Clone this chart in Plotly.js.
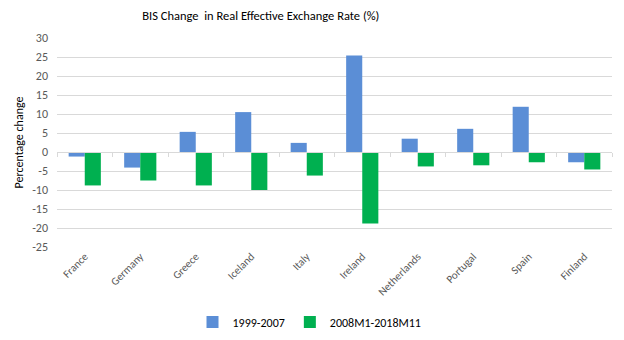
<!DOCTYPE html>
<html><head><meta charset="utf-8">
<script src="https://cdn.plot.ly/plotly-3.0.1.min.js"></script>
<style>html,body{margin:0;padding:0;background:#fff}#chart{width:624px;height:340px}</style>
</head><body><div id="chart"></div>
<script>
const countries = ["France","Germany","Greece","Iceland","Italy","Ireland","Netherlands","Portugal","Spain","Finland"];
const series1Name = "1999-2007";
const series1 = [-1.2,-4.1,5.3,10.5,2.4,25.4,3.5,6.1,11.9,-2.7];
const series2Name = "2008M1-2018M11";
const series2 = [-8.8,-7.5,-8.8,-10.0,-6.2,-18.8,-3.8,-3.5,-2.7,-4.6];
const yTicks = [-25,-20,-15,-10,-5,0,5,10,15,20,25,30];
const yRange = [-25,30];

const font = "Carlito, Calibri, 'Liberation Sans Narrow', 'Open Sans', sans-serif";
const idx = countries.map((c,i)=>i);
const boundaries = countries.concat([""]).map((c,i)=>i-0.5);

const traces = [
  {type:'bar', x:idx, y:series1, name:series1Name, marker:{color:'#5B8ED6'}},
  {type:'bar', x:idx, y:series2, name:series2Name, marker:{color:'#00B050'}},
  {type:'scatter', x:[idx[0]], y:[0], xaxis:'x2', mode:'markers', marker:{opacity:0}, showlegend:false, hoverinfo:'skip'}
];
const layout = {
  width:624, height:340,
  margin:{l:57, r:12, t:38, b:93, autoexpand:false},
  paper_bgcolor:'#fff', plot_bgcolor:'#fff',
  font:{family:font, color:'#595959', size:12},
  title:{text:'BIS Change  in Real Effective Exchange Rate (%)', xref:'container', x:0.418, xanchor:'center',
         yref:'container', y:0.953, yanchor:'middle', automargin:false,
         font:{family:font, size:12.5, color:'#000'}},
  barmode:'group', bargap:0.42, bargroupgap:0,
  xaxis:{type:'linear', range:[-0.5, countries.length-0.5], tickmode:'array', tickvals:idx, ticktext:countries,
         tickangle:-45, showgrid:false, zeroline:false, showline:false, ticks:'', automargin:false,
         tickfont:{family:font, size:11, color:'#595959'}},
  xaxis2:{type:'linear', overlaying:'x', anchor:'free', position:(0-yRange[0])/(yRange[1]-yRange[0]),
          range:[-0.5, countries.length-0.5], tickmode:'array', tickvals:boundaries, ticks:'outside', ticklen:4,
          tickcolor:'#d9d9d9', showticklabels:false, showline:true, linecolor:'#d9d9d9', linewidth:1, showgrid:false, zeroline:false},
  yaxis:{range:yRange, tickmode:'array', tickvals:yTicks, ticktext:yTicks.map(String), showgrid:true, gridcolor:'#d9d9d9',
         zeroline:false, showline:false, ticks:'', automargin:false, ticklabelstandoff:8,
         tickfont:{family:font, size:12, color:'#595959'},
         title:{text:'Percentage change', font:{family:font, size:12, color:'#000'}, standoff:5}},
  legend:{orientation:'h', xref:'container', x:0.496, xanchor:'center', yref:'container', y:0.053, yanchor:'middle',
          font:{family:font, size:12, color:'#000'}, traceorder:'normal', itemwidth:30}
};
Plotly.newPlot('chart', traces, layout, {staticPlot:true, displayModeBar:false});
</script></body></html>
